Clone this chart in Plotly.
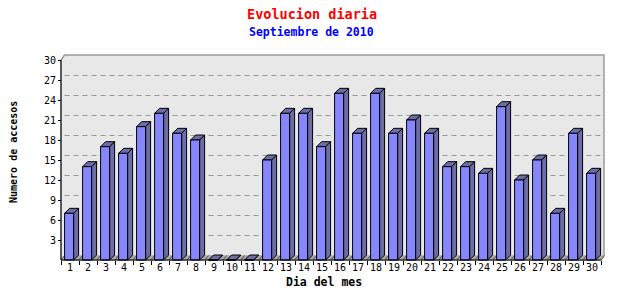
import plotly.graph_objects as go

# ---------------- data ----------------
days = list(range(1, 31))
day_labels = [str(d) for d in days]
visits = [7, 14, 17, 16, 20, 22, 19, 18, 0, 0, 0, 15, 22, 22, 17,
          25, 19, 25, 19, 21, 19, 14, 14, 13, 23, 12, 15, 7, 19, 13]
y_tick_vals = [3, 6, 9, 12, 15, 18, 21, 24, 27, 30]
title_text = "Evolucion diaria"
subtitle_text = "Septiembre de 2010"
x_title = "Dia del mes"
y_title = "Numero de accesos"

# ---------------- geometry (pixels) ----------------
W, H = 640, 300
plot_left, plot_right, plot_top, plot_bottom = 59, 606, 53, 262
front_x_px, front_y_px = 61, 260          # front axes position
wall_right_px, wall_top_px = 604, 55
px_x = 18.0                               # pixels per category
px_y = 20.0 / 3.0                         # pixels per unit
ymax = 30

x_lo = 0.5 - (front_x_px - plot_left) / px_x
x_hi = x_lo + (plot_right - plot_left) / px_x
y_lo = -(plot_bottom - front_y_px) / px_y
y_hi = y_lo + (plot_bottom - plot_top) / px_y

xw_r = 0.5 + (wall_right_px - front_x_px) / px_x
yw_t = (front_y_px - wall_top_px) / px_y
dxw, dyw = 3.5 / px_x, 4.5 / px_y          # wall depth
dx, dy = 5.0 / px_x, 5.0 / px_y            # bar depth
x_end = 0.5 + len(days)

def pxx(p):
    return (p - plot_left) / (plot_right - plot_left)

def pxy(p):
    return (plot_bottom - p) / (plot_bottom - plot_top)

fig = go.Figure()

# wall (back + left side)
fig.add_trace(go.Scatter(
    x=[0.5, 0.5, 0.5 + dxw, xw_r, xw_r, x_end, 0.5],
    y=[0, ymax, yw_t, yw_t, dyw, 0, 0],
    mode="lines", fill="toself", fillcolor="#e8e8e8",
    line=dict(color="#9a9a9a", width=1.5), hoverinfo="skip"))

# floor
fig.add_trace(go.Scatter(
    x=[0.5, 0.5 + dxw, xw_r, x_end, 0.5],
    y=[0, dyw, dyw, 0, 0],
    mode="lines", fill="toself", fillcolor="#a8a8a8",
    line=dict(color="#a8a8a8", width=0.5), hoverinfo="skip"))

# floor diagonals at category boundaries
fx, fy = [], []
for b in range(len(days) + 1):
    xb = 0.5 + b
    fx += [xb, xb + dxw, None]
    fy += [0, dyw, None]
fig.add_trace(go.Scatter(x=fx, y=fy, mode="lines",
                         line=dict(color="#555555", width=1), hoverinfo="skip"))

# dashed grid on the back wall
gx, gy = [], []
for t in y_tick_vals[:-1]:
    gx += [0.5 + dxw, xw_r, None]
    gy += [t + dyw, t + dyw, None]
fig.add_trace(go.Scatter(x=gx, y=gy, mode="lines",
                         line=dict(color="#9a9a9a", width=1, dash="5px,4px"),
                         hoverinfo="skip"))

# 3D bars
sx, sy, tx, ty, frx, fry = [], [], [], [], [], []
for d, v in zip(days, visits):
    xl, xr = d - 0.3, d + 0.2
    sx += [xr, xr + dx, xr + dx, xr, xr, None]
    sy += [0, dy, v + dy, v, 0, None]
    tx += [xl, xl + dx, xr + dx, xr, xl, None]
    ty += [v, v + dy, v + dy, v, v, None]
    frx += [xl, xr, xr, xl, xl, None]
    fry += [0, 0, v, v, 0, None]

for xs, ys, col in [(sx, sy, "#6c6ca6"), (tx, ty, "#6c6ca6"), (frx, fry, "#8686ff")]:
    fig.add_trace(go.Scatter(x=xs, y=ys, mode="lines", fill="toself",
                             fillcolor=col, line=dict(color="black", width=1),
                             hoverinfo="skip"))

# front axis lines
fig.add_trace(go.Scatter(x=[0.5, 0.5, None, 0.5, x_end], y=[0, ymax, None, 0, 0],
                         mode="lines", line=dict(color="black", width=1),
                         hoverinfo="skip"))

tick_font = dict(family="DejaVu Sans Mono", size=10, color="black")

fig.update_layout(
    width=W, height=H,
    margin=dict(l=plot_left, r=W - plot_right, t=plot_top, b=H - plot_bottom, pad=0),
    paper_bgcolor="white", plot_bgcolor="white",
    showlegend=False,
    xaxis=dict(range=[x_lo, x_hi], showgrid=False, zeroline=False, showline=False,
               tickmode="array", tickvals=days, ticktext=day_labels,
               ticks="", tickfont=tick_font,
               anchor="free", position=pxy(front_y_px),
               minor=dict(tickmode="array", tickvals=[0.5 + b for b in range(len(days) + 1)],
                          ticks="outside", ticklen=4, tickcolor="black", showgrid=False),
               fixedrange=True),
    yaxis=dict(range=[y_lo, y_hi], showgrid=False, zeroline=False, showline=False,
               tickmode="array", tickvals=y_tick_vals,
               ticktext=[str(v) for v in y_tick_vals],
               ticks="outside", ticklen=3, tickcolor="black", tickfont=tick_font,
               anchor="free", position=pxx(front_x_px), fixedrange=True),
    annotations=[
        dict(text=title_text, x=pxx(312), y=pxy(14), xref="paper", yref="paper",
             showarrow=False, xanchor="center", yanchor="middle",
             font=dict(family="DejaVu Sans Mono", size=13.5, color="#ff0000", weight="bold")),
        dict(text=subtitle_text, x=pxx(311), y=pxy(32), xref="paper", yref="paper",
             showarrow=False, xanchor="center", yanchor="middle",
             font=dict(family="DejaVu Sans Mono", size=11.5, color="#0000ff", weight="bold")),
        dict(text=x_title, x=pxx(324), y=pxy(282), xref="paper", yref="paper",
             showarrow=False, xanchor="center", yanchor="middle",
             font=dict(family="DejaVu Sans Mono", size=11.5, color="black", weight="bold")),
        dict(text=y_title, x=pxx(13), y=pxy(152), xref="paper", yref="paper",
             showarrow=False, xanchor="center", yanchor="middle", textangle=-90,
             font=dict(family="DejaVu Sans Mono", size=10, color="black", weight="bold")),
    ],
)

fig.write_html("out.html")
